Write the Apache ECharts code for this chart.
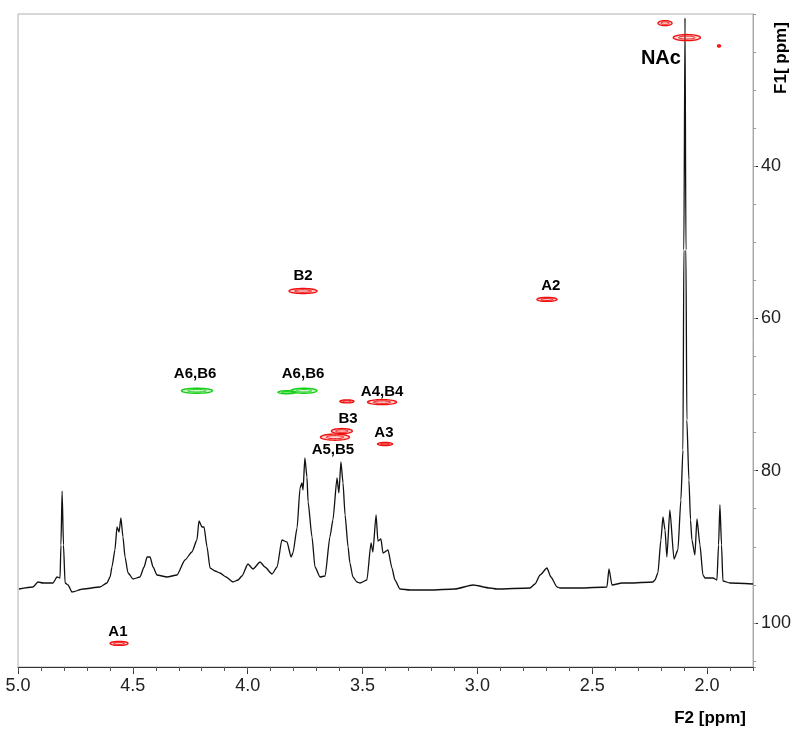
<!DOCTYPE html>
<html>
<head>
<meta charset="utf-8">
<script src="https://cdn.jsdelivr.net/npm/echarts@6/dist/echarts.min.js"></script>
<style>
html,body{margin:0;padding:0;background:#fff;}
#chart{width:800px;height:733px;}
</style>
</head>
<body>
<div id="chart"></div>
<script>
// ---- Data ----
// 1D proton spectrum (F2 ppm, intensity in arbitrary units)
const specPpm = [
  4.996,4.935,4.913,4.891,4.848,4.830,4.817,4.813,4.808,4.802,
  4.795,4.782,4.765,4.717,4.643,4.613,4.599,4.591,4.578,4.569,
  4.560,4.552,4.543,4.534,4.521,4.499,4.469,4.451,4.438,4.425,
  4.412,4.395,4.351,4.308,4.273,4.243,4.221,4.212,4.199,4.190,
  4.177,4.164,4.142,4.121,4.094,4.064,4.042,4.025,3.999,3.977,
  3.946,3.925,3.894,3.872,3.851,3.829,3.811,3.803,3.785,3.772,
  3.764,3.759,3.751,3.742,3.737,3.720,3.707,3.685,3.663,3.642,
  3.629,3.611,3.603,3.594,3.585,3.576,3.563,3.555,3.542,3.524,
  3.511,3.481,3.463,3.455,3.441,3.433,3.420,3.411,3.389,3.372,
  3.359,3.337,3.293,3.206,3.098,3.019,2.945,2.915,2.771,2.749,
  2.727,2.697,2.680,2.653,2.640,2.553,2.436,2.427,2.414,2.370,
  2.336,2.236,2.227,2.214,2.201,2.192,2.183,2.175,2.162,2.144,
  2.127,2.114,2.105,2.101,2.096,2.092,2.088,2.079,2.072,2.066,
  2.053,2.044,2.031,2.018,2.009,1.974,1.957,1.950,1.944,1.937,
  1.931,1.900,1.800];
const specInt = [
  78,80,85,84,84,90,89,122,176,122,
  84,82,75,78,80,84,90,100,117,140,
  135,149,130,110,94,88,90,100,110,110,
  100,92,90,92,107,115,127,146,140,140,
  120,99,96,94,90,85,87,91,103,98,
  105,100,93,100,127,125,110,114,139,179,
  184,177,209,190,165,130,100,90,91,130,
  147,189,174,205,184,152,120,104,90,85,
  84,87,124,115,152,126,128,114,117,99,
  87,78,77,77,78,82,79,78,79,83,
  92,99,90,80,79,79,80,98,82,84,
  84,85,87,94,127,150,137,110,157,108,
  117,167,217,417,649,417,247,187,147,127,
  112,148,122,92,89,89,87,122,162,122,
  86,84,83];

// 2D cross peaks: centre (F2, F1) and extent (F2 width, F1 height) in ppm
const redF2 = [2.183,2.088,1.948,3.759,2.697,3.568,3.415,3.590,3.620,3.402,4.560];
const redF1 = [21.2,23.1,24.2,56.4,57.5,70.9,71.0,74.8,75.6,76.5,102.7];
const redW2 = [0.061,0.118,0.013,0.122,0.087,0.061,0.126,0.091,0.126,0.065,0.078];
const redW1 = [0.66,0.80,0.30,0.66,0.53,0.40,0.66,0.66,0.80,0.40,0.53];

const greenF2 = [4.221,3.829,3.755];
const greenF1 = [69.5,69.7,69.5];
const greenW2 = [0.135,0.078,0.113];
const greenW1 = [0.66,0.40,0.66];

// Peak assignments
const labelText = ['B2','A2','A6,B6','A6,B6','A4,B4','B3','A3','A5,B5','A1'];
const labelF2 = [3.759,2.680,4.229,3.759,3.415,3.563,3.407,3.629,4.565];
const labelF1 = [54.4,55.7,67.3,67.3,69.7,73.2,75.0,77.3,101.2];
const nacText = 'NAc';
const nacF2 = 2.201;
const nacF1 = 25.8;

// Axis ticks
const f2MajorTicks = [2.0,2.5,3.0,3.5,4.0,4.5,5.0];
const f1MajorTicks = [40,60,80,100];

// ---- Chart ----
const FONT = "'Liberation Sans', Arial, Helvetica, sans-serif";
const chart = echarts.init(document.getElementById('chart'), null, {renderer:'canvas'});

function ellipsePoints(cx, cy, rx, ry) {
  const pts = [];
  const n = 40;
  for (let i = 0; i < n; i++) {
    const a = i / n * Math.PI * 2;
    pts.push([cx + rx * Math.cos(a), cy + ry * Math.sin(a)]);
  }
  return pts;
}
function makeRender(color) {
  return function (params, api) {
    const x = api.value(0), y = api.value(1);
    const c = api.coord([x, y]);
    const s = api.size([api.value(2), api.value(3)], [x, y]);
    const rx = Math.max(Math.abs(s[0]) / 2, 1.2);
    const ry = Math.max(Math.abs(s[1]) / 2, 1.0);
    return {
      type: 'group',
      children: [
        {type:'polygon', shape:{points: ellipsePoints(c[0], c[1], rx, ry)},
         style:{fill: color, opacity: 0.18, stroke: 'none'}},
        {type:'polygon', shape:{points: ellipsePoints(c[0], c[1], rx, ry)},
         style:{fill: 'none', stroke: color, lineWidth: 1.4}},
        {type:'polygon', shape:{points: ellipsePoints(c[0], c[1], rx * 0.6, ry * 0.5)},
         style:{fill: 'none', stroke: color, lineWidth: 1}}
      ]
    };
  };
}

const specData = specPpm.map((p, i) => [p, specInt[i]]);
const redData = redF2.map((p, i) => [p, redF1[i], redW2[i], redW1[i]]);
const greenData = greenF2.map((p, i) => [p, greenF1[i], greenW2[i], greenW1[i]]);
const labelData = labelText.map((t, i) => [labelF2[i], labelF1[i], t]);

const labelStyle = {show:true, position:'inside', formatter: p => p.value[2], fontFamily: FONT, fontWeight:'bold', fontSize:15, color:'#000'};

const option = {
  backgroundColor: '#fff',
  animation: false,
  grid: {left: 18, right: 47, top: 14, bottom: 66, show: true, borderColor: '#b0b0b0', borderWidth: 1, backgroundColor: 'transparent'},
  xAxis: [
    {type:'value', min:1.8, max:5.0, inverse:true, position:'bottom',
     axisLine:{show:true, lineStyle:{color:'#333', width:1}},
     axisTick:{show:true, customValues: f2MajorTicks, length:7, lineStyle:{color:'#333', width:1}},
     axisLabel:{customValues: f2MajorTicks, formatter: v => Number(v).toFixed(1), fontFamily: FONT, fontSize: 18, color:'#222', margin: 10},
     splitLine:{show:false}},
    {type:'value', min:1.8, max:5.0, inverse:true, position:'bottom', interval:0.1,
     axisLine:{show:false},
     axisTick:{show:true, length:4, lineStyle:{color:'#555', width:1}},
     axisLabel:{show:false},
     splitLine:{show:false}}
  ],
  yAxis: [
    {type:'value', min:20, max:105.8, inverse:true, position:'right',
     axisLine:{show:true, lineStyle:{color:'#a8a8a8', width:1}},
     axisTick:{show:true, customValues: f1MajorTicks, length:5, lineStyle:{color:'#222', width:1}},
     axisLabel:{customValues: f1MajorTicks, fontFamily: FONT, fontSize: 18, color:'#222', margin: 8},
     splitLine:{show:false}},
    {type:'value', min:20, max:105.8, inverse:true, position:'right', interval:5,
     axisLine:{show:false},
     axisTick:{show:true, length:3, lineStyle:{color:'#999', width:1}},
     axisLabel:{show:false},
     splitLine:{show:false}},
    {type:'value', min:0, max:653, show:false}
  ],
  series: [
    {type:'line', xAxisIndex:0, yAxisIndex:2, data: specData, showSymbol:false, symbol:'none',
     smooth: 0.2, smoothMonotone: 'x',
     lineStyle:{color:'#111', width:1.3}, z:3, silent:true},
    {type:'custom', xAxisIndex:0, yAxisIndex:0, data: redData, renderItem: makeRender('#f01010'), z:4, silent:true},
    {type:'custom', xAxisIndex:0, yAxisIndex:0, data: greenData, renderItem: makeRender('#18d018'), z:4, silent:true},
    {type:'scatter', xAxisIndex:0, yAxisIndex:0, data: labelData, symbolSize: 0, z:5, silent:true,
     itemStyle:{opacity:1}, label: labelStyle},
    {type:'scatter', xAxisIndex:0, yAxisIndex:0, data: [[nacF2, nacF1, nacText]], symbolSize: 0, z:5, silent:true,
     itemStyle:{opacity:1}, label: Object.assign({}, labelStyle, {fontSize:20})}
  ],
  graphic: [
    {type:'text', x: 746, y: 718, style:{text:'F2 [ppm]', font: "bold 17px " + FONT, fill:'#000', align:'right', verticalAlign:'middle'}},
    {type:'text', x: 781, y: 58, rotation: Math.PI / 2, style:{text:'F1[ ppm]', font: "bold 17px " + FONT, fill:'#000', align:'center', verticalAlign:'middle'}}
  ]
};
chart.setOption(option);
</script>
</body>
</html>
